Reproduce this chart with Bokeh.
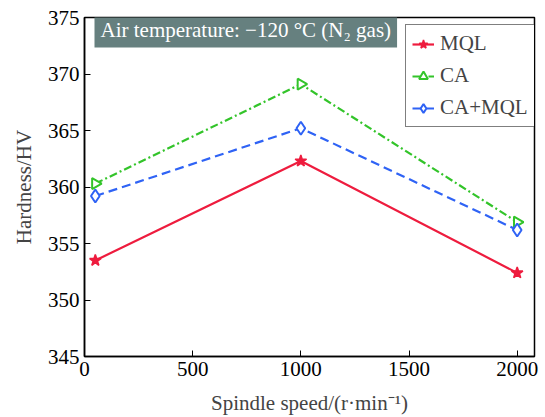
import math
from bokeh.plotting import figure
from bokeh.models import Label, Legend, LegendItem, Range1d, FixedTicker
from bokeh.embed import file_html
from bokeh.resources import INLINE

speed = [50, 1000, 2000]
mql = [353.5, 362.3, 352.4]
ca = [360.3, 369.1, 356.9]
ca_mql = [359.2, 365.2, 356.2]
x_ticks = [0, 500, 1000, 1500, 2000]
y_ticks = [345, 350, 355, 360, 365, 370, 375]

FONT = "Liberation Serif"

p = figure(width=545, height=417, output_backend="svg", toolbar_location=None,
           x_range=Range1d(0, 2080), y_range=Range1d(345, 375),
           min_border_left=84, min_border_right=11, min_border_top=17, min_border_bottom=60)
p.outline_line_color = "black"
p.outline_line_width = 1.5
p.grid.visible = False
p.background_fill_color = "white"

for ax in (p.xaxis[0], p.yaxis[0]):
    ax.major_label_text_font = FONT
    ax.major_label_text_font_size = "21px"
    ax.major_label_text_color = "black"
    ax.axis_label_text_font = FONT
    ax.axis_label_text_font_size = "21px"
    ax.axis_label_text_font_style = "normal"
    ax.axis_line_width = 1.5
    ax.major_tick_in = 6
    ax.major_tick_out = 0
    ax.minor_tick_in = 0
    ax.minor_tick_out = 0
p.xaxis.ticker = FixedTicker(ticks=x_ticks)
p.yaxis.ticker = FixedTicker(ticks=y_ticks)
p.xaxis.axis_label = "Spindle speed/(r·min⁻¹)"
p.yaxis.axis_label = "Hardness/HV"
p.xaxis.major_label_standoff = 5
p.xaxis.axis_label_standoff = 12
p.yaxis.major_label_standoff = 5
p.yaxis.axis_label_standoff = 9

red = "#ee1c3e"
green = "#33c42a"
blue = "#2f63f5"

l1 = p.line(speed, mql, line_color=red, line_width=2.2)
m1 = p.scatter(speed, mql, marker="star", size=12, fill_color=red, line_color=red, line_width=1.5)
l2 = p.line(speed, ca, line_color=green, line_width=2.2, line_dash="8 3 2 3")
m2 = p.scatter(speed, ca, marker="triangle", size=11, angle=-math.pi / 2,
               fill_color="white", line_color=green, line_width=2)
l3 = p.line(speed, ca_mql, line_color=blue, line_width=2.2, line_dash="9 5")
m3 = p.scatter(speed, ca_mql, marker="diamond", size=13,
               fill_color="white", line_color=blue, line_width=2)

legend = Legend(items=[
    LegendItem(label="MQL", renderers=[l1, m1]),
    LegendItem(label="CA", renderers=[l2, m2]),
    LegendItem(label="CA+MQL", renderers=[l3, m3]),
], location=(321, 229))
legend.label_text_font = FONT
legend.label_text_font_size = "21px"
legend.border_line_color = "black"
legend.border_line_width = 1.2
legend.glyph_width = 22
legend.glyph_height = 22
legend.label_height = 22
legend.spacing = 7
legend.padding = 6
legend.margin = 0
legend.label_standoff = 6
p.add_layout(legend)

lab = Label(x=10, y=309, x_units="screen", y_units="screen",
            text="Air temperature: −120 °C (N₂ gas)",
            text_font=FONT, text_font_size="21px", text_color="white",
            background_fill_color="#66807f", background_fill_alpha=1.0,
            padding=6)
p.add_layout(lab)

open("out.html", "w").write(file_html(p, INLINE))
